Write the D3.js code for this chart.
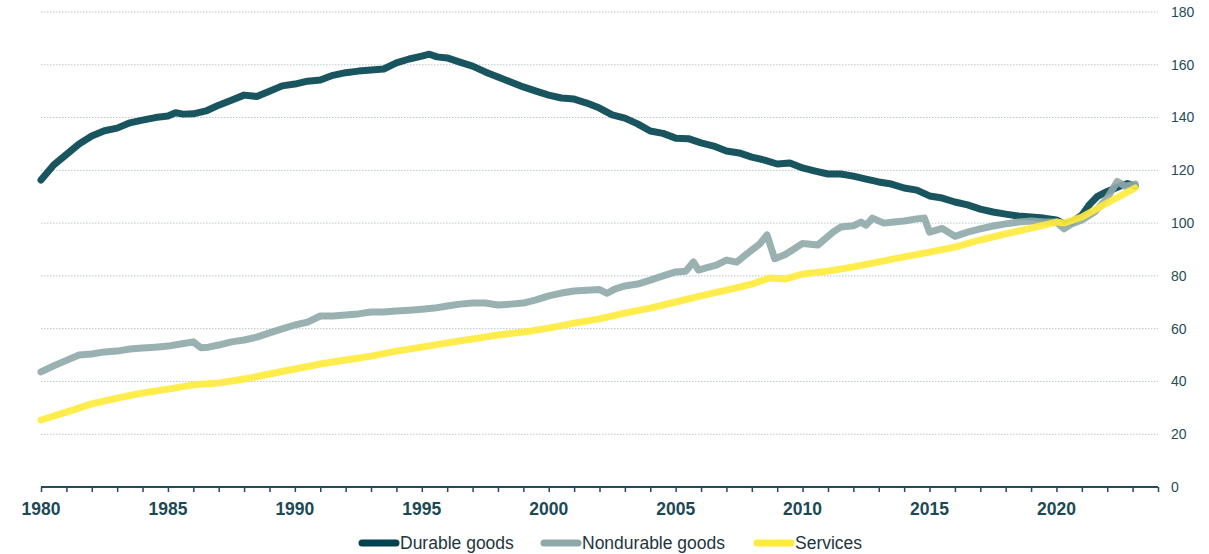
<!DOCTYPE html>
<html>
<head>
<meta charset="utf-8">
<script src="https://cdn.jsdelivr.net/npm/d3@7"></script>
<style>
  body { margin: 0; background: #fff; }
  svg { display: block; font-family: "Liberation Sans", Arial, sans-serif; }
</style>
</head>
<body>
<svg id="chart" width="1209" height="554"></svg>
<script>
// data (decimal years, index 2020 = 100)
const durableYears = [1980, 1980.5, 1981, 1981.5, 1982, 1982.5, 1983, 1983.5, 1984, 1984.5, 1985, 1985.3, 1985.6, 1986, 1986.5, 1987, 1987.5, 1988, 1988.5, 1989, 1989.5, 1990, 1990.5, 1991, 1991.5, 1992, 1992.5, 1993, 1993.5, 1994, 1994.5, 1995, 1995.3, 1995.6, 1996, 1996.5, 1997, 1997.5, 1998, 1998.5, 1999, 1999.5, 2000, 2000.5, 2001, 2001.5, 2002, 2002.5, 2003, 2003.5, 2004, 2004.5, 2005, 2005.5, 2006, 2006.5, 2007, 2007.5, 2008, 2008.5, 2009, 2009.5, 2010, 2010.5, 2011, 2011.5, 2012, 2012.5, 2013, 2013.5, 2014, 2014.5, 2015, 2015.5, 2016, 2016.5, 2017, 2017.5, 2018, 2018.5, 2019, 2019.5, 2020, 2020.3, 2020.6, 2021, 2021.3, 2021.6, 2022, 2022.5, 2022.8, 2023.1];
const durableValues = [116.3, 122, 126, 130, 133, 135, 136, 138, 139, 140, 140.6, 141.8, 141.3, 141.4, 142.5, 144.7, 146.6, 148.5, 148, 150, 152, 152.7, 153.8, 154.2, 156, 157, 157.6, 158, 158.4, 160.7, 162.2, 163.3, 164, 163, 162.6, 161, 159.5, 157.3, 155.4, 153.5, 151.6, 150, 148.5, 147.4, 147, 145.5, 143.6, 141, 139.8, 137.6, 134.9, 134, 132.2, 132, 130.4, 129.2, 127.3, 126.6, 125, 123.9, 122.4, 122.8, 120.9, 119.7, 118.6, 118.6, 117.8, 116.7, 115.6, 114.8, 113.3, 112.5, 110.3, 109.5, 108, 106.9, 105.3, 104.2, 103.4, 102.7, 102.3, 101.9, 101.2, 99.7, 100.4, 103, 107, 110, 112, 114, 115, 114];

const nondurableYears = [1980, 1980.5, 1981, 1981.5, 1982, 1982.5, 1983, 1983.5, 1984, 1984.5, 1985, 1985.5, 1986, 1986.3, 1986.6, 1987, 1987.5, 1988, 1988.5, 1989, 1989.5, 1990, 1990.5, 1991, 1991.5, 1992, 1992.5, 1993, 1993.5, 1994, 1994.5, 1995, 1995.5, 1996, 1996.5, 1997, 1997.5, 1998, 1998.5, 1999, 1999.5, 2000, 2000.5, 2001, 2001.5, 2002, 2002.3, 2002.6, 2003, 2003.5, 2004, 2004.5, 2005, 2005.4, 2005.7, 2005.9, 2006.2, 2006.6, 2007, 2007.4, 2007.7, 2008, 2008.3, 2008.6, 2008.9, 2009.3, 2009.6, 2010, 2010.6, 2011.2, 2011.5, 2012, 2012.3, 2012.5, 2012.75, 2013.2, 2013.6, 2014, 2014.5, 2014.8, 2015, 2015.5, 2016, 2016.5, 2017, 2017.5, 2018, 2018.5, 2019, 2019.5, 2020, 2020.3, 2020.6, 2021, 2021.5, 2022, 2022.4, 2022.7, 2023.1];
const nondurableValues = [43.6, 45.9, 48, 50, 50.4, 51.2, 51.5, 52.3, 52.7, 53, 53.4, 54.2, 55, 52.8, 53, 53.8, 55, 55.7, 56.8, 58.4, 59.9, 61.4, 62.5, 64.8, 64.8, 65.2, 65.6, 66.3, 66.3, 66.7, 67, 67.4, 67.8, 68.6, 69.3, 69.7, 69.7, 69, 69.3, 69.7, 70.9, 72.4, 73.5, 74.3, 74.6, 74.8, 73.4, 75, 76.2, 76.9, 78.4, 80, 81.5, 81.8, 85.3, 82.2, 83, 84.1, 86, 85.2, 87.5, 89.8, 92, 95.5, 86.5, 88, 89.8, 92.3, 91.7, 96.6, 98.5, 99, 100.4, 99.2, 101.9, 100, 100.4, 100.8, 101.6, 101.9, 96.6, 98, 95, 96.6, 97.8, 98.9, 99.7, 100.4, 100.8, 100.4, 100.4, 97.8, 99.7, 101.2, 104.2, 109.5, 115.8, 114, 114.8];

const servicesYears = [1980, 1981, 1982, 1983, 1984, 1985, 1986, 1987, 1988, 1989, 1990, 1991, 1992, 1993, 1994, 1995, 1996, 1997, 1998, 1999, 2000, 2001, 2002, 2003, 2004, 2005, 2006, 2007, 2008, 2008.7, 2009.3, 2010, 2011, 2012, 2013, 2014, 2015, 2016, 2017, 2018, 2019, 2020, 2020.3, 2021, 2022, 2023.1];
const servicesValues = [25.4, 28.4, 31.5, 33.7, 35.6, 37.1, 38.7, 39.4, 40.9, 42.8, 44.7, 46.6, 48.1, 49.6, 51.5, 53, 54.6, 56.1, 57.6, 58.7, 60.2, 62.1, 63.7, 65.9, 67.8, 70.1, 72.4, 74.6, 76.9, 79.2, 78.8, 80.7, 81.8, 83.4, 85.3, 87.2, 89, 90.9, 93.6, 95.9, 98.1, 100.4, 100, 102.3, 107.6, 113.3];

const yTicks = [0, 20, 40, 60, 80, 100, 120, 140, 160, 180];
const xLabelYears = [1980, 1985, 1990, 1995, 2000, 2005, 2010, 2015, 2020];

const series = [
  { name: 'Durable goods', years: durableYears, values: durableValues, color: '#00434e' },
  { name: 'Nondurable goods', years: nondurableYears, values: nondurableValues, color: '#8fa9aa' },
  { name: 'Services', years: servicesYears, values: servicesValues, color: '#ffeb3b' }
];

const svg = d3.select('#chart');
const plotLeft = 41, plotRight = 1158, plotTop = 12, plotBottom = 487;

const x = d3.scaleLinear().domain([1980, 2024]).range([plotLeft, plotRight]);
const y = d3.scaleLinear().domain([0, 180]).range([plotBottom, plotTop]);

// dotted grid
svg.append('g')
  .selectAll('line')
  .data(yTicks.filter(d => d > 0))
  .enter()
  .append('line')
  .attr('x1', plotLeft)
  .attr('x2', plotRight)
  .attr('y1', d => y(d))
  .attr('y2', d => y(d))
  .attr('stroke', '#b7c7cc')
  .attr('stroke-width', 1)
  .attr('stroke-dasharray', '1.5,1.5');

// right-hand labels
svg.append('g')
  .selectAll('text')
  .data(yTicks)
  .enter()
  .append('text')
  .attr('x', 1171)
  .attr('y', d => y(d))
  .attr('dy', '0.35em')
  .style('font-size', '14px')
  .style('fill', '#1f4d58')
  .text(d => d);

// x axis
const xAxis = d3.axisBottom(x)
  .tickValues(d3.range(1980, 2025))
  .tickSize(5)
  .tickFormat('');
const axisG = svg.append('g')
  .attr('transform', `translate(0,${plotBottom})`)
  .call(xAxis);
axisG.select('.domain').attr('stroke', '#1f4d58').attr('stroke-width', 2).attr('d', `M${plotLeft},0H${plotRight}`);
axisG.selectAll('.tick line').attr('stroke', '#1f4d58').attr('stroke-width', 1.5);

svg.append('g')
  .selectAll('text')
  .data(xLabelYears)
  .enter()
  .append('text')
  .attr('x', d => x(d))
  .attr('y', 515)
  .attr('text-anchor', 'middle')
  .style('font-size', '17.5px')
  .style('font-weight', 'bold')
  .style('fill', '#1b4a55')
  .text(d => d);

// lines
const line = d3.line()
  .x(d => x(d[0]))
  .y(d => y(d[1]));

svg.append('g')
  .selectAll('path')
  .data(series)
  .enter()
  .append('path')
  .attr('d', s => line(s.years.map((yr, i) => [yr, s.values[i]])))
  .attr('fill', 'none')
  .attr('stroke', s => s.color)
  .attr('stroke-width', 7)
  .attr('stroke-linejoin', 'round')
  .attr('stroke-linecap', 'round')
  .attr('opacity', 0.9);

// legend
const legendX = [362, 544, 757];
const legend = svg.append('g')
  .selectAll('g')
  .data(series)
  .enter()
  .append('g')
  .attr('transform', (d, i) => `translate(${legendX[i]},543)`);

legend.append('line')
  .attr('x1', 0)
  .attr('x2', 34)
  .attr('stroke', d => d.color)
  .attr('stroke-width', 7)
  .attr('stroke-linecap', 'round');

legend.append('text')
  .attr('x', 38)
  .attr('dy', '0.35em')
  .style('font-size', '17.5px')
  .style('fill', '#1e3640')
  .text(d => d.name);
</script>
</body>
</html>
